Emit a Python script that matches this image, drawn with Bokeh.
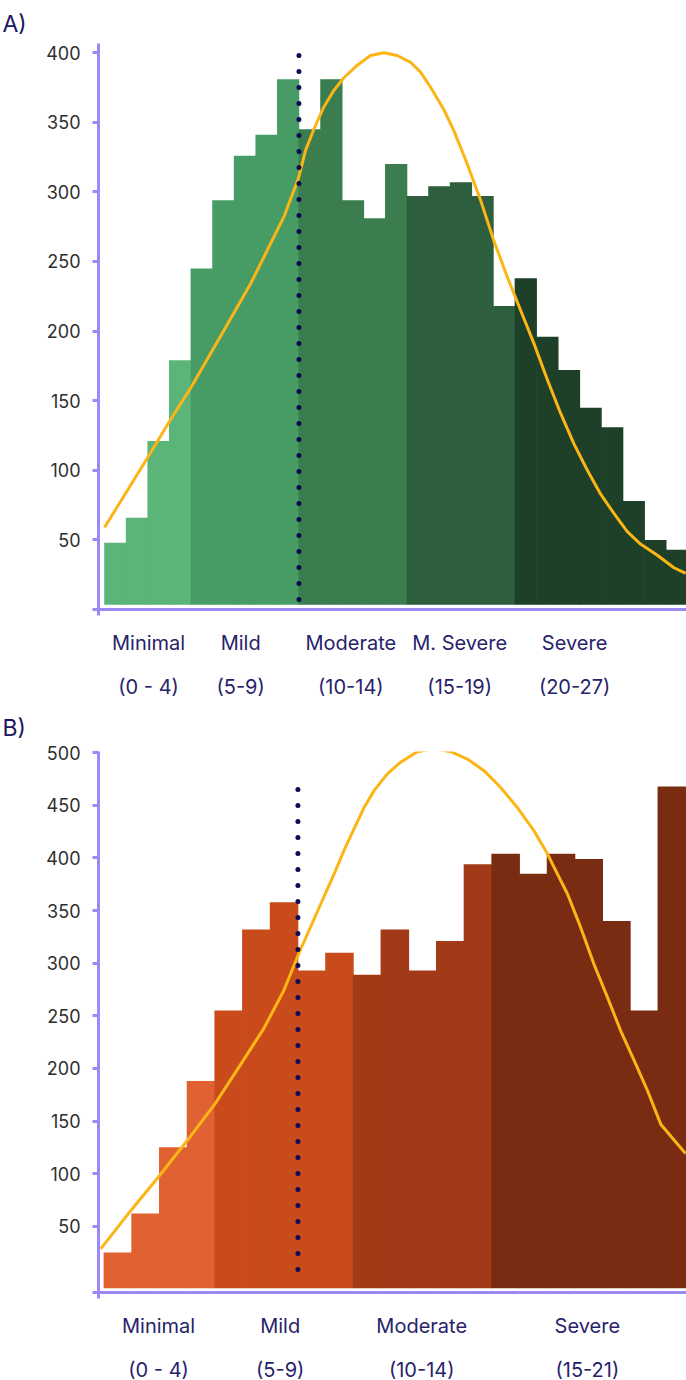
from bokeh.plotting import figure
from bokeh.models import FixedTicker, LinearAxis, Range1d, ColumnDataSource
from bokeh.layouts import column
from bokeh.embed import file_html
from bokeh.resources import INLINE

# ---------------- Panel A (PHQ-9) ----------------
A_scores = list(range(1, 28))
A_counts = [48, 66, 121, 179, 245, 294, 326, 341, 381, 345, 381, 294, 281, 320,
            297, 304, 307, 297, 218, 238, 196, 172, 145, 131, 78, 50, 43]
A_group_names = ["Minimal", "Mild", "Moderate", "M. Severe", "Severe"]
A_group_ranges = ["(0 - 4)", "(5-9)", "(10-14)", "(15-19)", "(20-27)"]
A_group_upper = [4, 9, 14, 19, 27]
A_group_colors = ["#5bb478", "#469c64", "#3b7d4f", "#2d5e3e", "#1e3f28"]
A_label_x = [2.54, 6.8, 11.9, 16.94, 22.26]
A_cutoff = 9.5
A_kde_x = [0.5, 2.49, 3.46, 4.48, 6.01, 7.26, 8.8, 9.48, 9.81, 10.19, 10.65, 11.12,
           11.58, 12.2, 12.81, 13.43, 14.05, 14.67, 15.13, 15.6, 16.21, 16.67,
           17.29, 17.91, 18.52, 19.14, 19.76, 20.38, 21.0, 21.61, 22.23, 22.85,
           23.46, 24.08, 24.7, 25.31, 26.09, 26.86, 27.4]
A_kde_y = [59, 109, 134, 159, 200, 234, 282, 310, 330, 345, 361, 373,
           382, 391, 398, 400, 398, 393, 386, 375, 359, 344,
           320, 294, 265, 239, 215, 191, 165, 141, 119, 100,
           83, 69, 56, 47, 39, 30, 26]
A_yticks = [50, 100, 150, 200, 250, 300, 350, 400]

# ---------------- Panel B (GAD-7) ----------------
B_scores = list(range(1, 22))
B_counts = [25, 62, 125, 188, 255, 332, 358, 293, 310, 289, 332, 293, 321, 394,
            404, 385, 404, 399, 340, 255, 468]
B_group_names = ["Minimal", "Mild", "Moderate", "Severe"]
B_group_ranges = ["(0 - 4)", "(5-9)", "(10-14)", "(15-21)"]
B_group_upper = [4, 9, 14, 21]
B_group_colors = ["#e06131", "#c94b1c", "#a33a17", "#7a2c12"]
B_label_x = [2.47, 6.86, 11.97, 17.95]
B_cutoff = 7.5
B_kde_x = [0.38, 1.47, 2.47, 3.49, 4.5, 5.44, 6.27, 6.99, 7.53, 8.32, 8.86, 9.16,
           9.53, 9.89, 10.25, 10.73, 11.21, 11.81, 12.41, 13.02, 13.62, 14.22,
           14.82, 15.42, 16.02, 16.51, 16.75, 17.23, 17.71, 18.19, 18.67, 19.15,
           19.63, 20.12, 20.6, 21.08, 21.5]
B_kde_y = [28.5, 65, 97, 131, 166, 204, 238, 274, 309, 356, 388, 407,
           428, 448, 464, 480, 491, 501, 504, 501, 494, 483,
           467, 448, 426, 404, 391, 366, 334, 299, 268, 236,
           208, 179, 147, 132, 119]
B_yticks = [50, 100, 150, 200, 250, 300, 350, 400, 450, 500]

PURPLE = "#9c89f7"
ORANGE = "#fbb516"
NAVY = "#0d0b4f"
LABEL_NAVY = "#27236a"
TICK_GREY = "#2e2e2e"
FONT = "Inter"


def make_panel(title, scores, counts, uppers, colors, names, ranges, label_x,
               kde_x, kde_y, cutoff, cut_lo, cut_hi, yticks, xr, yr, base,
               height, top_border, bottom_border, title_standoff):
    bar_colors = []
    for s in scores:
        for u, c in zip(uppers, colors):
            if s <= u:
                bar_colors.append(c)
                break
    src = ColumnDataSource(dict(x=scores, top=counts, color=bar_colors))

    p = figure(width=686, height=height, x_range=Range1d(*xr), y_range=Range1d(*yr),
               output_backend="svg", toolbar_location=None,
               min_border_left=98, min_border_right=0,
               min_border_top=top_border, min_border_bottom=bottom_border,
               outline_line_color=None, background_fill_color="white",
               border_fill_color="white")
    p.grid.visible = False

    p.title.text = title
    p.title.text_font = FONT
    p.title.text_font_size = "23px"
    p.title.text_font_style = "normal"
    p.title.text_color = "#1c1760"
    p.title.align = "left"
    p.title.offset = -96
    p.title.standoff = title_standoff

    p.vbar(x="x", top="top", bottom=base, width=1.03, fill_color="color",
           line_color=None, source=src)
    p.line(kde_x, kde_y, line_color=ORANGE, line_width=3, line_join="round")
    p.segment(x0=[cutoff], y0=[cut_hi], x1=[cutoff], y1=[cut_lo], line_color=NAVY,
              line_width=5, line_dash="0 16", line_cap="round")

    yax = p.yaxis[0]
    yax.ticker = FixedTicker(ticks=yticks, minor_ticks=[yr[0]])
    yax.axis_line_color = PURPLE
    yax.axis_line_width = 3
    yax.major_tick_line_color = PURPLE
    yax.major_tick_line_width = 3
    yax.major_tick_out = 6
    yax.major_tick_in = 0
    yax.minor_tick_line_color = PURPLE
    yax.minor_tick_line_width = 3
    yax.minor_tick_out = 6
    yax.minor_tick_in = 0
    yax.major_label_text_font = FONT
    yax.major_label_text_font_size = "18px"
    yax.major_label_text_color = TICK_GREY
    yax.major_label_standoff = 12

    xax = p.xaxis[0]
    xax.ticker = FixedTicker(ticks=label_x, minor_ticks=[xr[0]])
    xax.major_label_overrides = {x: n for x, n in zip(label_x, names)}
    xax.axis_line_color = PURPLE
    xax.axis_line_width = 3
    xax.major_tick_line_color = None
    xax.major_tick_out = 0
    xax.major_tick_in = 0
    xax.minor_tick_line_color = PURPLE
    xax.minor_tick_line_width = 3
    xax.minor_tick_out = 6
    xax.minor_tick_in = 0
    xax.major_label_text_font = FONT
    xax.major_label_text_font_size = "20px"
    xax.major_label_text_color = LABEL_NAVY
    xax.major_label_standoff = 15

    ax2 = LinearAxis(ticker=FixedTicker(ticks=label_x),
                     major_label_overrides={x: r for x, r in zip(label_x, ranges)},
                     axis_line_color=None, major_tick_line_color=None,
                     minor_tick_line_color=None, major_tick_out=0, major_tick_in=0,
                     minor_tick_out=0, minor_tick_in=0, major_label_standoff=17,
                     major_label_text_font=FONT, major_label_text_font_size="20px",
                     major_label_text_color=LABEL_NAVY)
    p.add_layout(ax2, "below")
    return p


pA = make_panel("A)", A_scores, A_counts, A_group_upper, A_group_colors, A_group_names,
                A_group_ranges, A_label_x, A_kde_x, A_kde_y, A_cutoff, 5.7, 398,
                A_yticks, (0.22, 27.44), (0, 406.6), 3.5, 701, 43, 92, 11)
pB = make_panel("B)", B_scores, B_counts, B_group_upper, B_group_colors, B_group_names,
                B_group_ranges, B_label_x, B_kde_x, B_kde_y, B_cutoff, -5.4, 465,
                B_yticks, (0.3, 21.53), (-13, 501.2), -9, 683, 50, 92, 19)

layout = column(pA, pB)
open("out.html", "w").write(file_html(layout, INLINE))
